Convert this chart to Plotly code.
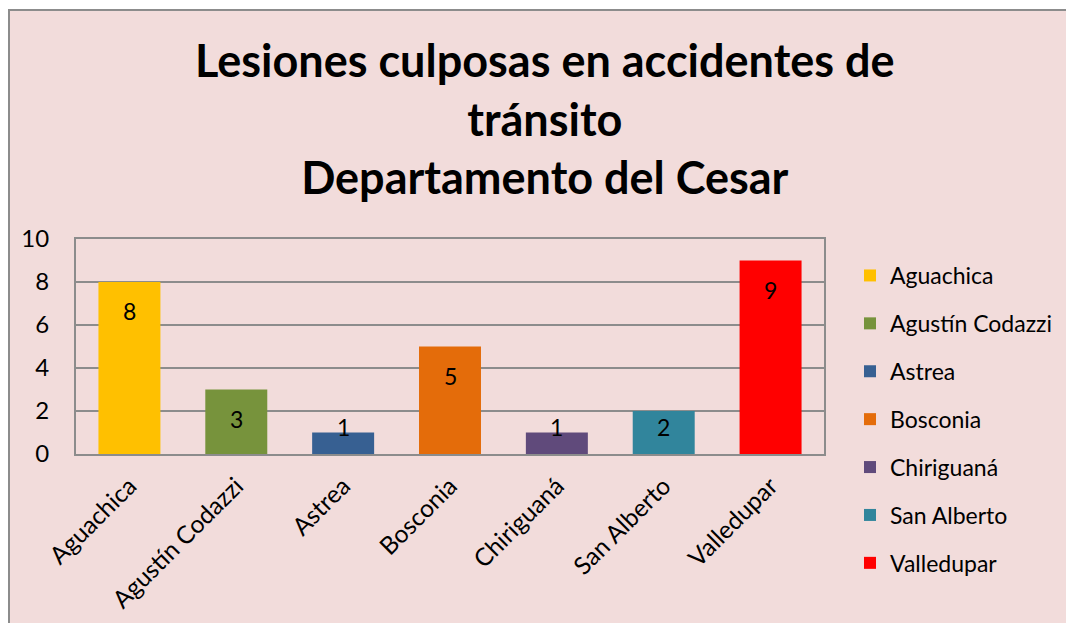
import plotly.graph_objects as go

categories = ["Aguachica", "Agustín Codazzi", "Astrea", "Bosconia", "Chiriguaná", "San Alberto", "Valledupar"]
values = [8, 3, 1, 5, 1, 2, 9]
colors = ["#FFC000", "#77933C", "#376092", "#E46C0A", "#604A7B", "#31859C", "#FF0000"]
y_ticks = [0, 2, 4, 6, 8, 10]

W, H = 1074, 623
# page has an 8px body margin; figure coordinates below are page - 8
L, R, T, B = 68, 258, 231, 177
FONT = "Lato"

fig = go.Figure()
for i, (c, v, col) in enumerate(zip(categories, values, colors)):
    fig.add_trace(go.Bar(
        x=[c], y=[v], name=c, marker=dict(color=col, line=dict(width=0)),
        legendgroup=f"g{i}", hoverinfo="x+y",
    ))
    # data labels (inside end, clamped for short bars like Excel)
    if v >= 3:
        fig.add_annotation(x=c, y=v, yshift=-29, text=str(v), showarrow=False,
                           font=dict(family=FONT, size=23, color="black"))
    else:
        fig.add_annotation(x=c, y=0, yshift=27, text=str(v), showarrow=False,
                           font=dict(family=FONT, size=23, color="black"))

pw = W - L - R
ph = H - T - B
def px_x(p):
    return (p - L) / pw
def px_y(p):
    return (H - B - p) / ph

# chart area background with border
fig.add_shape(type="rect", xref="paper", yref="paper",
              x0=px_x(1), x1=px_x(W + 20), y0=px_y(H + 20), y1=px_y(2),
              fillcolor="#F2DCDB", line=dict(color="#8C8C8C", width=2), layer="below")

fig.add_annotation(xref="paper", yref="paper", x=px_x(537), y=px_y(110),
                   text="<b>Lesiones culposas en accidentes de<br>tránsito<br>Departamento del Cesar</b>",
                   showarrow=False, align="center", xanchor="center", yanchor="middle",
                   font=dict(family=FONT, size=45, color="black"))

fig.update_layout(
    width=W, height=H,
    margin=dict(l=L, r=R, t=T, b=B, pad=0),
    paper_bgcolor="white",
    plot_bgcolor="white",
    barmode="relative",
    bargap=0.42,
    showlegend=True,
    legend=dict(x=px_x(842), y=px_y(246), xanchor="left", yanchor="top",
                traceorder="grouped", tracegroupgap=15, maxheight=600,
                font=dict(family=FONT, size=23, color="black"),
                bgcolor="rgba(0,0,0,0)", itemwidth=30),
    font=dict(family=FONT, color="black"),
    xaxis=dict(type="category", tickangle=-45, tickfont=dict(family=FONT, size=24.5, color="black"),
               showline=True, linecolor="#8C8C8C", linewidth=2, mirror=True,
               ticks="outside", ticklen=6, tickcolor="rgba(0,0,0,0)", showgrid=False),
    yaxis=dict(range=[0, 10], tickvals=y_ticks, tickfont=dict(family=FONT, size=24, color="black"),
               showgrid=True, gridcolor="#8C8C8C", gridwidth=1.5,
               showline=True, linecolor="#8C8C8C", linewidth=2, mirror=True,
               ticks="outside", ticklen=20, tickcolor="rgba(0,0,0,0)", zeroline=False),
)

fig.write_html("out.html")
